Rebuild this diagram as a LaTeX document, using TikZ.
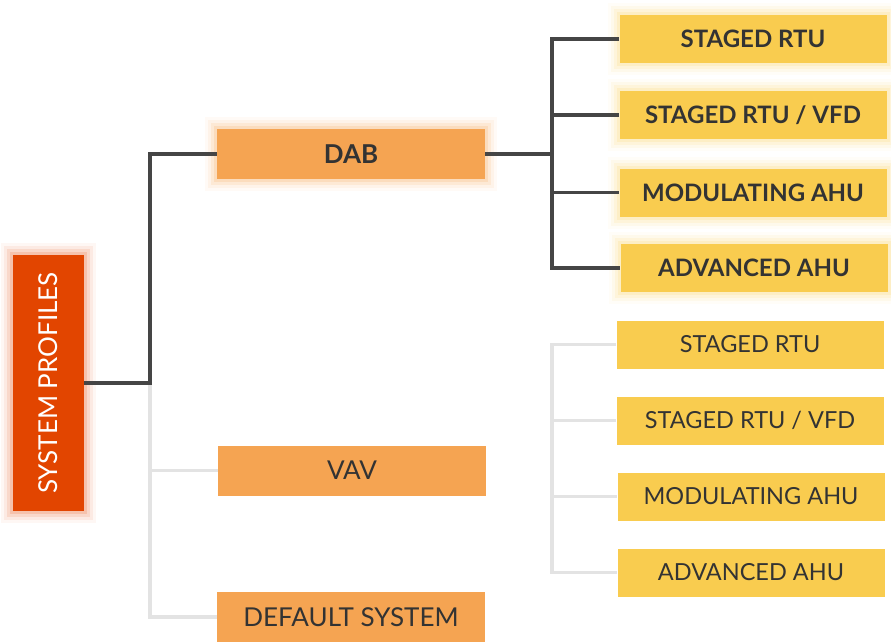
\documentclass[tikz,border=0pt]{standalone}
\usepackage{fontspec}
\setmainfont{Lato}
\usepackage{tikz}
\definecolor{profred}{HTML}{E24500}
\definecolor{daborange}{HTML}{F5A452}
\definecolor{rtuyellow}{HTML}{F9CC4F}
\definecolor{darkline}{HTML}{454545}
\definecolor{paleline}{HTML}{E3E3E3}
\definecolor{inktext}{HTML}{333333}
\begin{document}
\begin{tikzpicture}
[x=1pt, y=-1pt,
glow/.style={preaction={draw=#1, line width=24pt, opacity=0.07, rounded corners=11pt},
  preaction={draw=#1, line width=18pt, opacity=0.12, rounded corners=8pt},
  preaction={draw=#1, line width=12pt, opacity=0.2, rounded corners=5pt},
  preaction={draw=#1, line width=6pt, opacity=0.3, rounded corners=3pt}},
profile/.style={fill=profred, text=white, inner sep=0pt, minimum width=256pt, minimum height=71pt, rotate=90, font=\fontsize{26}{31}\selectfont, glow=profred!60},
system/.style={fill=daborange, text=inktext, inner sep=0pt, minimum width=268pt, minimum height=50pt, font=\fontsize{26}{31}\selectfont},
unit/.style={fill=rtuyellow, text=inktext, inner sep=0pt, minimum width=267pt, minimum height=48pt, font=\fontsize{23.5}{28}\selectfont},
active/.style={font=\bfseries\fontsize{24}{29}\selectfont},
trunk line/.style={darkline, line width=3.5pt},
pale line/.style={paleline, line width=3.5pt}]
\useasboundingbox (0,0) rectangle (891,642);
% left column
\node[profile] (sys) at (48.5,383) {SYSTEM PROFILES};
% middle column
\node[system, glow=daborange!70, font=\bfseries\fontsize{26}{31}\selectfont] (dab) at (351,154) {DAB};
\node[system] (vav) at (352,470.5) {VAV};
\node[system] (def) at (351,617) {DEFAULT SYSTEM};
% right column, active branch
\node[unit, active, glow=rtuyellow!60] (d1) at (753,39) {STAGED RTU};
\node[unit, active, glow=rtuyellow!60] (d2) at (753,115) {STAGED RTU / VFD};
\node[unit, active, glow=rtuyellow!60] (d3) at (753,192.5) {MODULATING AHU};
\node[unit, active, glow=rtuyellow!60] (d4) at (754,268) {ADVANCED AHU};
% right column, inactive branch
\node[unit] (l1) at (750,344.5) {STAGED RTU};
\node[unit] (l2) at (750,420.5) {STAGED RTU / VFD};
\node[unit] (l3) at (751,496.5) {MODULATING AHU};
\node[unit] (l4) at (751,572.5) {ADVANCED AHU};
% connectors
\coordinate (trunk) at (150,383);
\coordinate (dabfork) at (552,154);
\coordinate (palefork) at (552,0);
\draw[pale line] (trunk) |- (vav.west);
\draw[pale line] (trunk) |- (def.west);
\draw[trunk line] (sys.south) -- (trunk) |- (dab.west);
\draw[trunk line] (dab.east) -- (dabfork);
\draw[trunk line] (d1.west) -| (dabfork) |- (d4.west);
\draw[trunk line] (dabfork |- d2.west) -- (d2.west);
\draw[trunk line] (dabfork |- d3.west) -- (d3.west);
\draw[pale line] (l1.west) -| (palefork |- l4.west) -- (l4.west);
\draw[pale line] (palefork |- l2.west) -- (l2.west);
\draw[pale line] (palefork |- l3.west) -- (l3.west);
\end{tikzpicture}
\end{document}
